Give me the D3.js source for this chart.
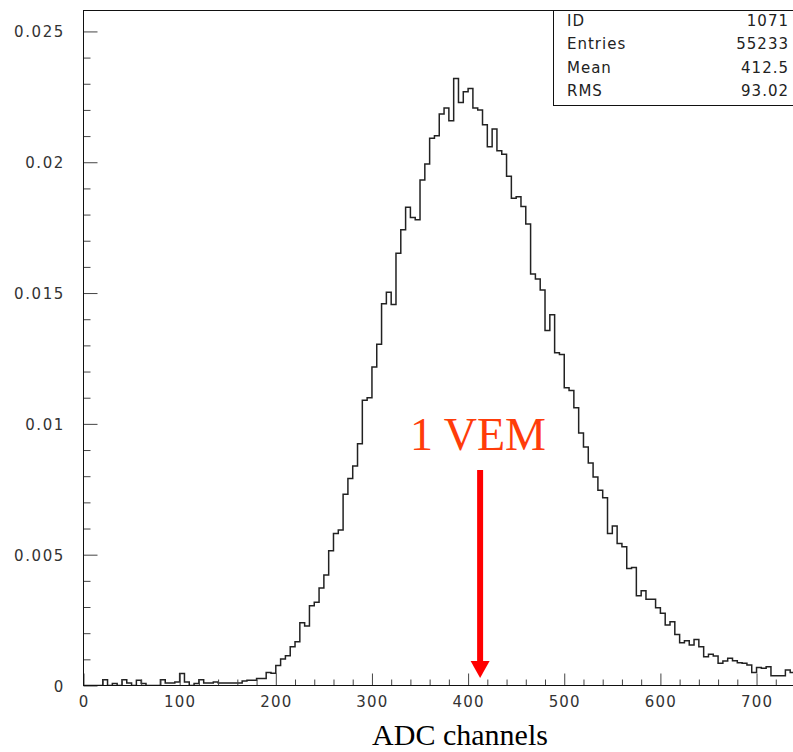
<!DOCTYPE html>
<html>
<head>
<meta charset="utf-8">
<script src="https://cdn.jsdelivr.net/npm/d3@7"></script>
<style>
  body { margin: 0; background: white; }
</style>
</head>
<body>
<div id="container"></div>
<script>
// ADC spectrum, 5 channel bins, normalised. values

let binWidth = 5;
let binValues = [
  0, 0, 0, 0, 0.00022, 0, 0.00008, 0, 0.00022, 0.00010,        // 0 - 45
  0, 0.00020, 0.00008, 0, 0, 0, 0.00022, 0.00010, 0.00010, 0.00013,   // 50 - 95
  0.00046, 0.00013, 0, 0.00008, 0.00022, 0.00010, 0.00010, 0.00013, 0.00010, 0.00010,  // 100 - 145
  0.00010, 0.00010, 0.00010, 0.00017, 0.00020, 0.00020, 0.00027, 0.00027, 0.00050, 0.00047, // 150 - 195
  0.00076, 0.00101, 0.00114, 0.00148, 0.00167, 0.00240, 0.00227, 0.00305, 0.00318, 0.00373, // 200 - 245
  0.00422, 0.00515, 0.00581, 0.00594, 0.00731, 0.00791, 0.00839, 0.00924, 0.01090, 0.01100, // 250 - 295
  0.01217, 0.01304, 0.01459, 0.01503, 0.01456, 0.01652, 0.01742, 0.01828, 0.01789, 0.01780, // 300 - 345
  0.01932, 0.01993, 0.02092, 0.02101, 0.02184, 0.02207, 0.02159, 0.02320, 0.02228, 0.02269, // 350 - 395
  0.02282, 0.02207, 0.02200, 0.02143, 0.02059, 0.02127, 0.02044, 0.02031, 0.01946, 0.01862, // 400 - 445
  0.01868, 0.01831, 0.01764, 0.01573, 0.01554, 0.01512, 0.01357, 0.01417, 0.01272, 0.01265, // 450 - 495
  0.01138, 0.01128, 0.01062, 0.00965, 0.00912, 0.00850, 0.00797, 0.00746, 0.00718, 0.00581, // 500 - 545
  0.00610, 0.00543, 0.00530, 0.00447, 0.00451, 0.00343, 0.00362, 0.00330, 0.00330, 0.00297, // 550 - 595
  0.00276, 0.00231, 0.00244, 0.00195, 0.00163, 0.00171, 0.00155, 0.00176, 0.00148, 0.00110, // 600 - 645
  0.00119, 0.00113, 0.00085, 0.00094, 0.00104, 0.00095, 0.00087, 0.00085, 0.00078, 0.00050, // 650 - 695
  0.00069, 0.00066, 0.00072, 0.00037, 0.00037, 0.00037, 0.00059, 0.00050                    // 700 - 735
];

let xTicks = [0, 100, 200, 300, 400, 500, 600, 700];
let yTicks = [0, 0.005, 0.01, 0.015, 0.02, 0.025];
let yTickLabels = ["0", "0.005", "0.01", "0.015", "0.02", "0.025"];

let statNames = ["ID", "Entries", "Mean", "RMS"];
let statValues = ["1071", "55233", "412.5", "93.02"];

let vemPosition = 412.5; // = mean
let vemLabel = "1 VEM";
let xTitle = "ADC channels";

let w = 793;
let h = 752;
let padLeft = 83.5;
let padRight = 795;
let padTop = 10.5;
let padBottom = 685.5;

let tickFont = "'DejaVu Sans', sans-serif";

let viz = d3.select("#container")
  .append("svg")
    .attr("width", w)
    .attr("height", h)
    .style("background-color", "white")
;

let xScale = d3.scaleLinear().domain([0, 740]).range([padLeft, padRight]);
let yScale = d3.scaleLinear().domain([0, 0.0258]).range([padBottom, padTop]);

// histogram outline
let points = binValues.map(function(d, i){
  return [i * binWidth, d];
});
points.push([binValues.length * binWidth, binValues[binValues.length - 1]]);

let histLine = d3.line()
  .x(function(d){ return xScale(d[0]); })
  .y(function(d){ return yScale(d[1]); })
  .curve(d3.curveStepAfter);

viz.append("clipPath").attr("id", "plotclip")
  .append("rect")
    .attr("x", padLeft)
    .attr("y", padTop)
    .attr("width", padRight - padLeft)
    .attr("height", padBottom - padTop)
;

viz.append("path")
  .datum(points)
  .attr("clip-path", "url(#plotclip)")
  .attr("d", histLine)
  .attr("fill", "none")
  .attr("stroke", "#222")
  .attr("stroke-width", 1.5)
;

// y axis, ticks point inwards
let yAxis = d3.axisRight(yScale)
  .tickValues(d3.range(0, 0.0256, 0.001))
  .tickSize(7)
  .tickFormat("");
let yAxisGroup = viz.append("g").attr("class", "yaxis")
  .attr("transform", "translate(" + padLeft + ", 0)")
  .call(yAxis);
yAxisGroup.select(".domain").remove();
yAxisGroup.selectAll(".tick line")
  .attr("stroke", "#444")
  .attr("x2", function(d){
    return Math.abs(d / 0.005 - Math.round(d / 0.005)) < 1e-6 ? 14 : 7;
  });

viz.append("g").attr("class", "ylabels")
  .selectAll("text")
  .data(yTicks)
  .enter()
  .append("text")
    .attr("x", 65)
    .attr("y", function(d){ return yScale(d) + 6; })
    .attr("text-anchor", "end")
    .attr("font-family", tickFont)
    .attr("font-size", "15px")
    .attr("letter-spacing", "1.6px")
    .attr("fill", "#333")
    .text(function(d, i){ return yTickLabels[i]; })
;

// x axis, ticks point up
let xAxis = d3.axisTop(xScale)
  .tickValues(d3.range(0, 741, 20))
  .tickSize(6)
  .tickFormat("");
let xAxisGroup = viz.append("g").attr("class", "xaxis")
  .attr("transform", "translate(0, " + padBottom + ")")
  .call(xAxis);
xAxisGroup.select(".domain").remove();
xAxisGroup.selectAll(".tick line")
  .attr("stroke", "#444")
  .attr("y2", function(d){ return d % 100 == 0 ? -12 : -6; });

viz.append("g").attr("class", "xlabels")
  .selectAll("text")
  .data(xTicks)
  .enter()
  .append("text")
    .attr("x", function(d){ return xScale(d) + 0.5; })
    .attr("y", 707)
    .attr("text-anchor", "middle")
    .attr("font-family", tickFont)
    .attr("font-size", "15px")
    .attr("letter-spacing", "1.2px")
    .attr("fill", "#333")
    .text(function(d){ return d; })
;

// frame
viz.append("rect")
  .attr("x", padLeft)
  .attr("y", padTop)
  .attr("width", padRight - padLeft)
  .attr("height", padBottom - padTop)
  .attr("fill", "none")
  .attr("stroke", "#111")
  .attr("stroke-width", 1)
;

// stats box
let statsBox = viz.append("g").attr("class", "stats");
statsBox.append("rect")
  .attr("x", 553.5)
  .attr("y", padTop)
  .attr("width", 250)
  .attr("height", 95)
  .attr("fill", "white")
  .attr("stroke", "#111")
;
statNames.forEach(function(name, i){
  statsBox.append("text")
    .attr("x", 567)
    .attr("y", 26 + i * 23.3)
    .attr("font-family", tickFont)
    .attr("font-size", "15px")
    .attr("letter-spacing", "1px")
    .attr("fill", "#222")
    .text(name);
  statsBox.append("text")
    .attr("x", 789)
    .attr("y", 26 + i * 23.3)
    .attr("text-anchor", "end")
    .attr("font-family", tickFont)
    .attr("font-size", "15px")
    .attr("letter-spacing", "1px")
    .attr("fill", "#222")
    .text(statValues[i]);
});

// VEM arrow
let ax = xScale(vemPosition);
viz.append("line")
  .attr("x1", ax)
  .attr("x2", ax)
  .attr("y1", 470)
  .attr("y2", 662)
  .attr("stroke", "#ff0000")
  .attr("stroke-width", 6)
;
viz.append("path")
  .attr("d", "M" + (ax - 9.5) + ",661 L" + (ax + 9.5) + ",661 L" + ax + ",678 Z")
  .attr("fill", "#ff0000")
;
viz.append("text")
  .attr("x", 478)
  .attr("y", 450)
  .attr("text-anchor", "middle")
  .attr("font-family", "'Liberation Serif', 'Times New Roman', serif")
  .attr("font-size", "46px")
  .attr("fill", "#ff3c0a")
  .text(vemLabel)
;

// axis title
viz.append("text")
  .attr("x", 460)
  .attr("y", 745)
  .attr("text-anchor", "middle")
  .attr("font-family", "'Liberation Serif', 'Times New Roman', serif")
  .attr("font-size", "30px")
  .attr("fill", "black")
  .text(xTitle)
;
</script>
</body>
</html>
